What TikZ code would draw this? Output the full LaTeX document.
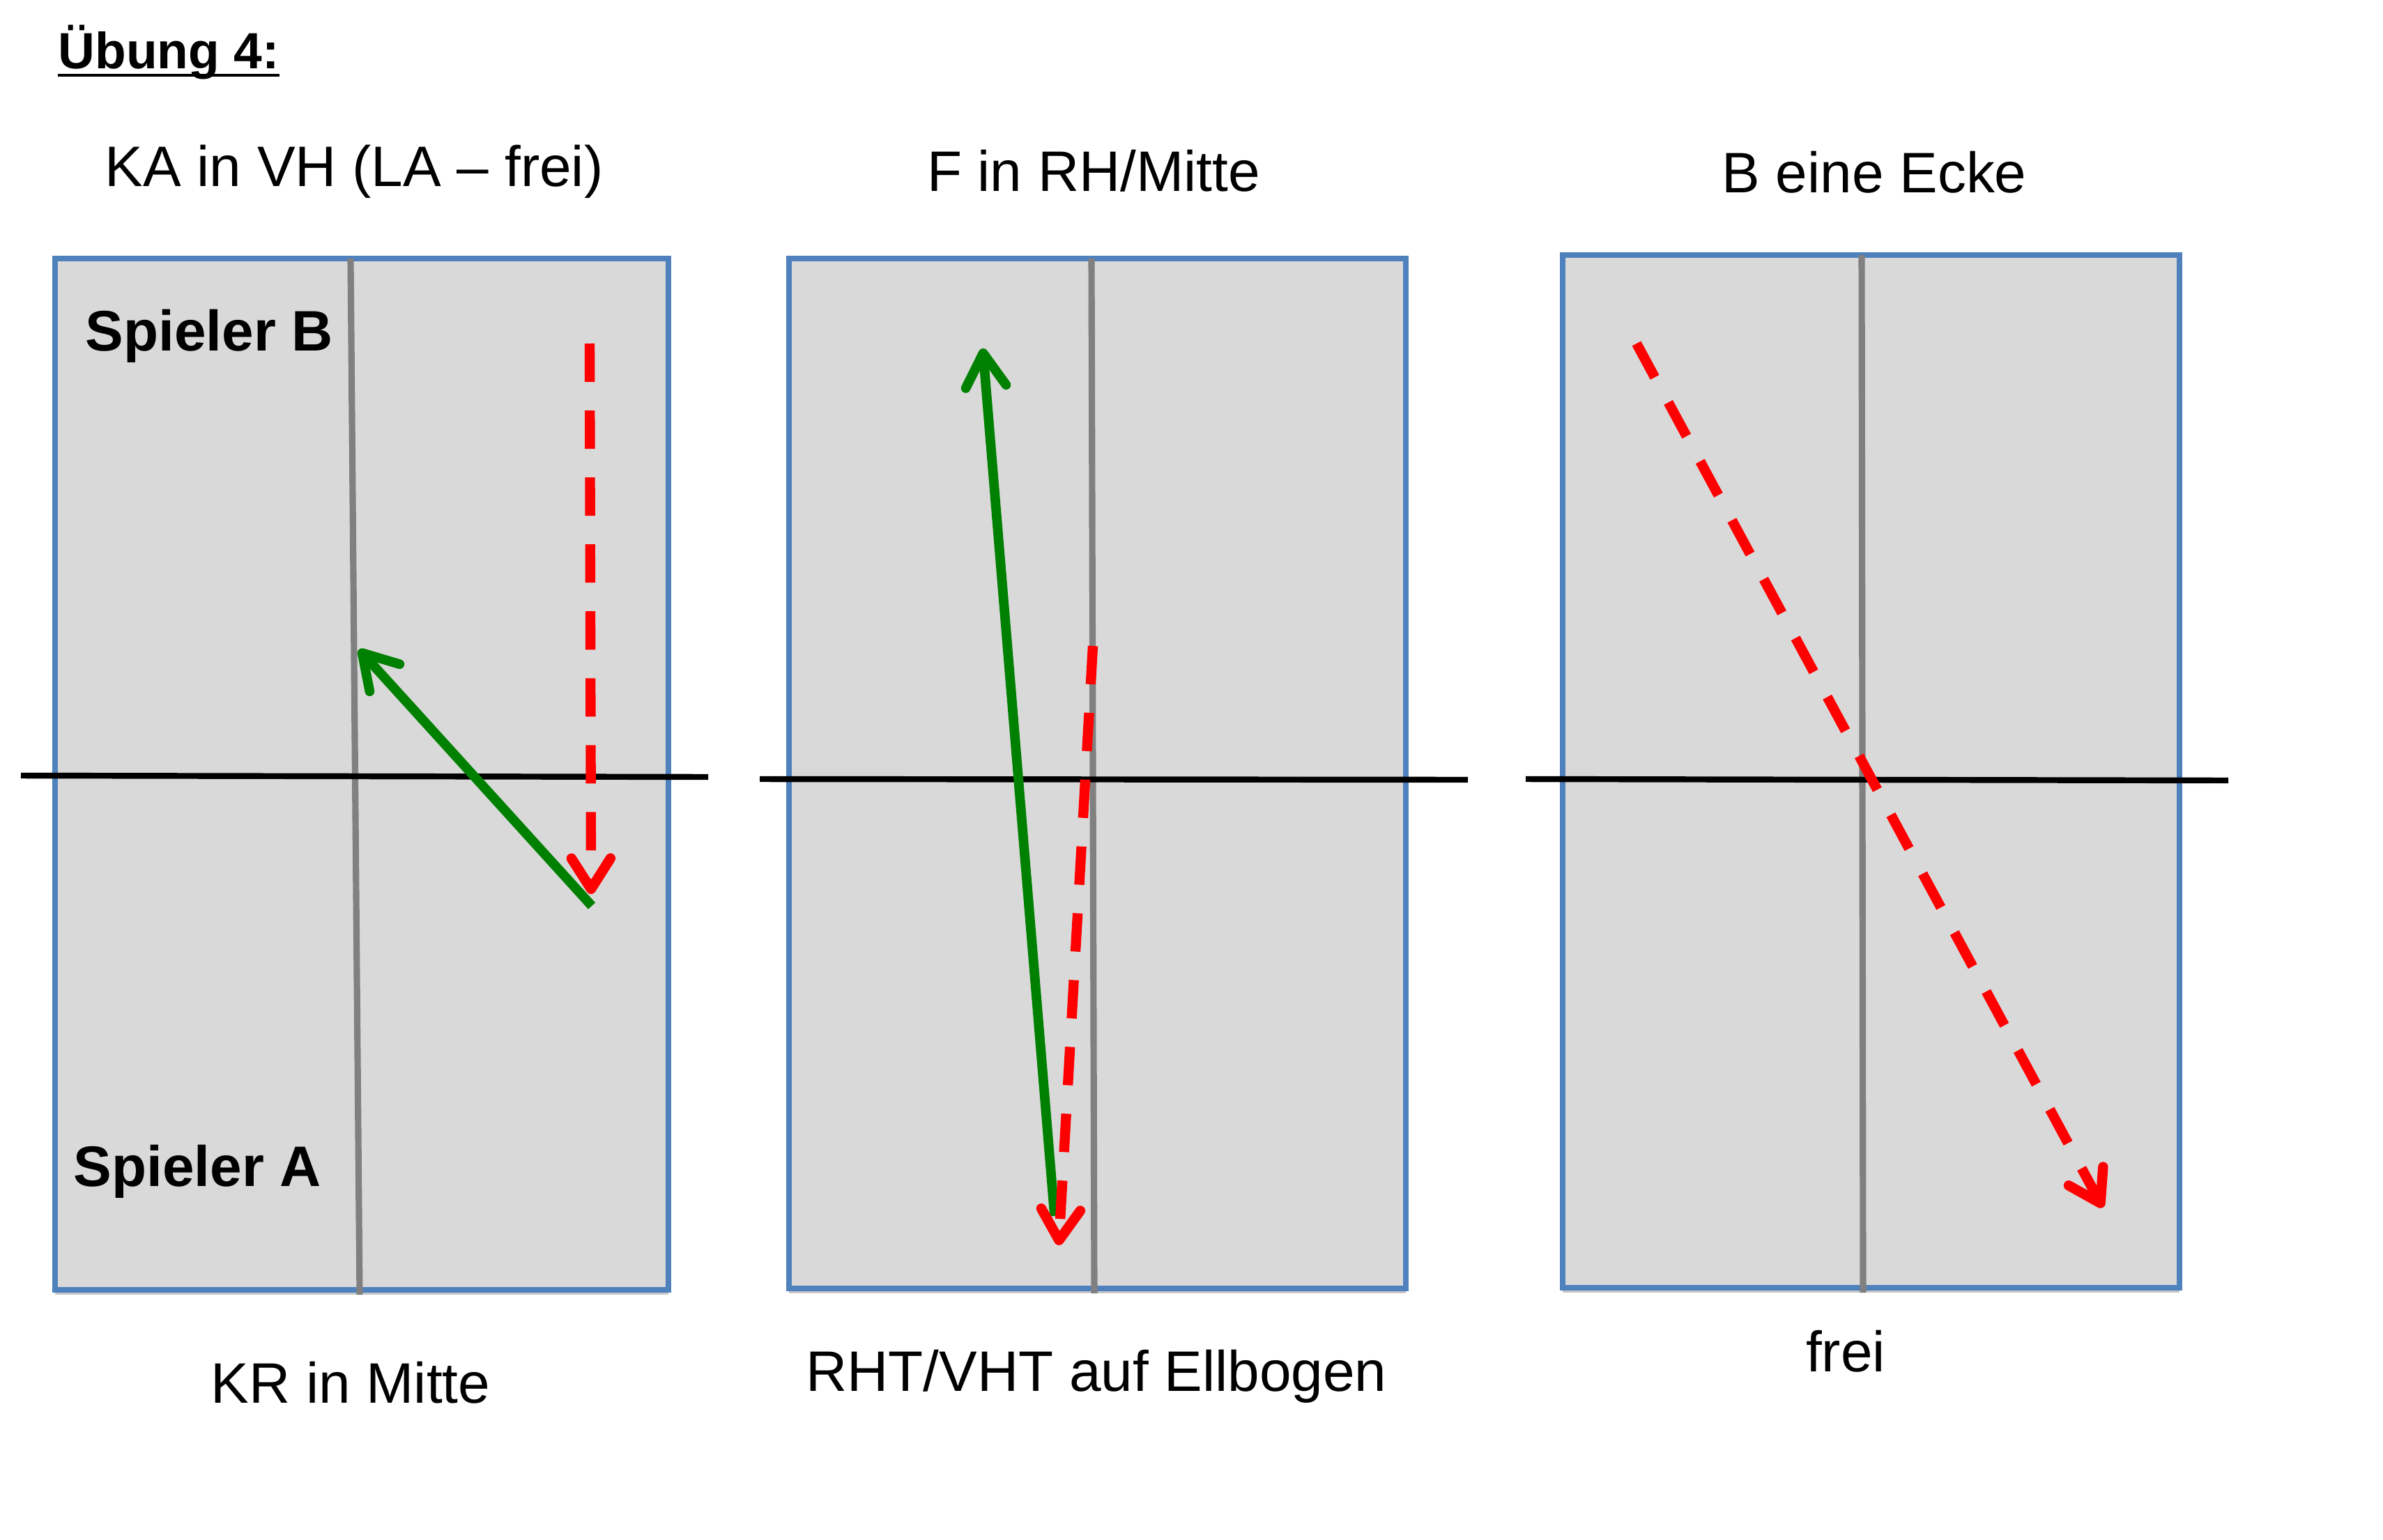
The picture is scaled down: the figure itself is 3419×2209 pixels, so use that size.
\documentclass[tikz,border=0pt]{standalone}
\usepackage{fontspec}
\setmainfont{Liberation Sans}
\usetikzlibrary{arrows.meta}
\definecolor{courtblue}{RGB}{79,129,189}
\definecolor{courtgray}{RGB}{217,217,217}
\definecolor{netgray}{RGB}{128,128,128}
\definecolor{ballgreen}{RGB}{0,128,0}
\definecolor{ballred}{RGB}{255,0,0}
\tikzset{
	court/.style={draw=courtblue, fill=courtgray, line width=2.4pt},
	courtshadow/.style={fill=black!22},
	midline/.style={draw=netgray, line width=2.6pt},
	netline/.style={draw=black, line width=2.4pt},
	shotA/.style={draw=ballgreen, line width=3.9pt, -{Straight Barb[length=0.48cm, width=0.58cm, round]}},
	shotB/.style={draw=ballred, line width=4.1pt, dash pattern=on 0.55cm off 0.41cm, -{Straight Barb[length=0.44cm, width=0.56cm, round]}},
	heading/.style={inner sep=0pt, font=\fontsize{23.3}{28}\selectfont},
	player/.style={inner sep=0pt, font=\fontsize{23.3}{28}\selectfont\bfseries},
}
\begin{document}
\begin{tikzpicture}[x={(0.01cm,0)}, y={(0,-0.01cm)}]
	\useasboundingbox (0,0) rectangle (3419,2209);
	\node[inner sep=0pt, anchor=base west, font=\fontsize{20.8}{25}\selectfont\bfseries] (title) at (83,99) {Übung 4:};
	\draw[line width=1.2pt] ([yshift=-0.09cm]title.base west) -- ([yshift=-0.09cm]title.base east);

	% Übung links
	\fill[courtshadow] (79,378) rectangle (959,1858);
	\draw[court] (79,371) rectangle (959,1851);
	\draw[midline] (503,371) -- (516,1858);
	\draw[netline] (30,1113) -- (1016,1115);
	\node[heading, anchor=base] (ka) at (508,268) {KA in VH (LA – frei)};
	\node[heading, anchor=base] (kr) at (503,2013) {KR in Mitte};
	\node[player, anchor=base west] (spb) at (122,503) {Spieler B};
	\node[player, anchor=base west] (spa) at (105,1702) {Spieler A};
	\coordinate (b1s) at (846,493);
	\coordinate (b1e) at (848,1283);
	\coordinate (a1s) at (849,1300);
	\coordinate (a1e) at (515,932);
	\draw[shotB] (b1s) -- (b1e);
	\draw[shotA] (a1s) -- (a1e);

	% Übung Mitte
	\fill[courtshadow] (1132,378) rectangle (2017,1856);
	\draw[court] (1132,371) rectangle (2017,1849);
	\draw[midline] (1566,371) -- (1570,1856);
	\draw[netline] (1090,1118) -- (2106,1119);
	\node[heading, anchor=base] (f) at (1569,274) {F in RH/Mitte};
	\node[heading, anchor=base] (rht) at (1573,1996) {RHT/VHT auf Ellbogen};
	\coordinate (a2s) at (1513,1745);
	\coordinate (a2e) at (1410,500);
	\coordinate (b2s) at (1568,927);
	\coordinate (b2e) at (1519,1787);
	\draw[shotA] (a2s) -- (a2e);
	\draw[shotB] (b2s) -- (b2e);

	% Übung rechts
	\fill[courtshadow] (2242,373) rectangle (3127,1855);
	\draw[court] (2242,366) rectangle (3127,1848);
	\draw[midline] (2671,366) -- (2673,1855);
	\draw[netline] (2189,1118) -- (3197,1120);
	\node[heading, anchor=base] (b) at (2689,276) {B eine Ecke};
	\node[heading, anchor=base] (frei) at (2648,1968) {frei};
	\coordinate (b3s) at (2348,493);
	\coordinate (b3e) at (3017,1733);
	\draw[shotB] (b3s) -- (b3e);
\end{tikzpicture}
\end{document}
